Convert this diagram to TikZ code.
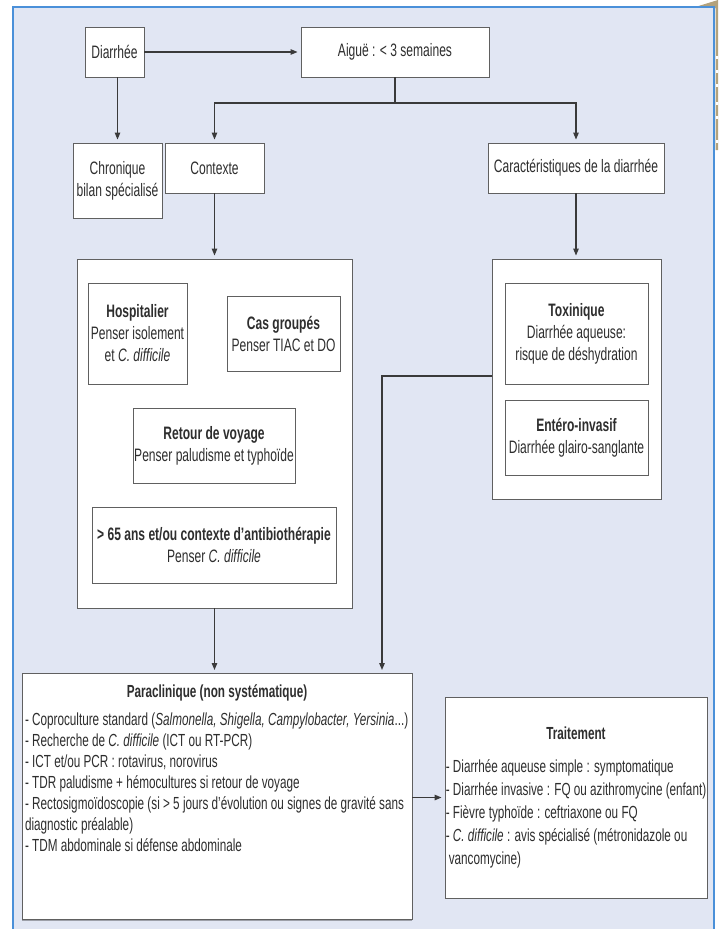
\documentclass[tikz,border=0pt]{standalone}
\usepackage{fontspec}
\setmainfont{Liberation Sans}[FakeStretch=0.67]
\usepackage{tikz}
\usetikzlibrary{calc,positioning,arrows.meta,shadows}
\usepackage{xcolor}
\definecolor{fond}{HTML}{E1E6F3}
\definecolor{cadre}{HTML}{4A90D9}
\definecolor{trait}{HTML}{3A3A3A}
\definecolor{bord}{HTML}{606060}
\definecolor{texte}{HTML}{2E2E2E}
\definecolor{coin}{HTML}{B3A27C}

\begin{document}
\begin{tikzpicture}[x=1pt, y=-1pt,
    boite/.style={draw=bord, fill=white, line width=0.9pt, align=center, text=texte,
        font=\fontsize{18}{22}\selectfont, inner sep=1pt,
        drop shadow={shadow xshift=0.4pt, shadow yshift=-1.2pt, fill=black, opacity=0.3}},
    zone/.style={boite},
    fleche/.style={draw=trait, line width=1.2pt, -{Triangle[length=7pt,width=5.5pt]}, shorten >=3pt},
    lien/.style={draw=trait, line width=1.2pt}]

    \useasboundingbox (0,0) rectangle (718,929);
    \fill[white] (0,0) rectangle (718,929);
    \fill[coin] (692,8) -- (718,0) -- (718,150) -- (715.5,150) -- (715.5,8) -- cycle;
    \foreach \y in {56,70,84,102,116,140} {
        \fill[white] (715.5,\y) rectangle (718,\y+3);
    }

    % cadre bleu
    \fill[fond] (13,7) rectangle (714,935);
    \draw[cadre, line width=2.2pt] (13,7) rectangle (714,935);

    % premier niveau
    \node[boite, minimum width=59pt, minimum height=50pt] (diarrhee) at (114.5,52) {Diarrhée};
    \node[boite, minimum width=188pt, minimum height=50pt] (aigue) at (395,52) {Aiguë : < 3 semaines};
    \node[boite, minimum width=89pt, minimum height=75pt] (chronique) at (117.5,180.5) {Chronique\\bilan spécialisé};
    \node[boite, minimum width=99pt, minimum height=50pt] (contexte) at (214.5,168) {Contexte};
    \node[boite, minimum width=176pt, minimum height=50pt] (caract) at (576,168) {Caractéristiques de la diarrhée};

    % zone contexte
    \node[zone, minimum width=275pt, minimum height=349pt] (zonecontexte) at (214.5,433.5) {};
    \node[boite, minimum width=99pt, minimum height=101pt] (hospitalier) at (137.5,333.5)
        {\textbf{Hospitalier}\\Penser isolement\\et \textit{C. difficile}};
    \node[boite, minimum width=113pt, minimum height=75pt] (groupes) at (283.5,333.5)
        {\textbf{Cas groupés}\\Penser TIAC et DO};
    \node[boite, minimum width=162pt, minimum height=75pt] (voyage) at (214,445.5)
        {\textbf{Retour de voyage}\\Penser paludisme et typhoïde};
    \node[boite, minimum width=244pt, minimum height=76pt] (agees) at (214,545)
        {\textbf{> 65 ans et/ou contexte d’antibiothérapie}\\Penser \textit{C. difficile}};

    % zone caracteristiques
    \node[zone, minimum width=169pt, minimum height=240pt] (zonecar) at (576.5,379) {};
    \node[boite, minimum width=143pt, minimum height=101pt] (toxinique) at (576.5,333.5)
        {\textbf{Toxinique}\\Diarrhée aqueuse:\\risque de déshydration};
    \node[boite, minimum width=143pt, minimum height=75pt] (entero) at (576.5,437.5)
        {\textbf{Entéro-invasif}\\Diarrhée glairo-sanglante};

    % examens et traitement
    \node[boite, inner sep=3pt, anchor=north] (para) at (217,673)
        {\parbox[t][240pt][t]{384pt}{\fontsize{17.5}{21}\selectfont\vspace*{8pt}%
        {\centering\textbf{Paraclinique (non systématique)}\par}\vspace{7pt}%
        \begin{tabular}[t]{@{}l@{}}
        - Coproculture standard (\textit{Salmonella, Shigella, Campylobacter, Yersinia}...)\\
        - Recherche de \textit{C. difficile} (ICT ou RT-PCR)\\
        - ICT et/ou PCR : rotavirus, norovirus\\
        - TDR paludisme + hémocultures si retour de voyage\\
        - Rectosigmoïdoscopie (si > 5 jours d’évolution ou signes de gravité sans\\
        diagnostic préalable)\\
        - TDM abdominale si défense abdominale
        \end{tabular}}};
    \node[boite, minimum width=262pt, minimum height=201pt, inner sep=0pt] (traitement) at (576,797.5)
        {\fontsize{17.5}{23}\selectfont\begin{tabular}{@{}l@{}}
        \multicolumn{1}{@{}c@{}}{\textbf{Traitement}}\\[10pt]
        - Diarrhée aqueuse simple : symptomatique\\
        - Diarrhée invasive : FQ ou azithromycine (enfant)\\
        - Fièvre typhoïde : ceftriaxone ou FQ\\
        - \textit{C. difficile} : avis spécialisé (métronidazole ou\\
        \hspace*{3pt}vancomycine)
        \end{tabular}};

    % connecteurs
    \coordinate (partage) at (395,103);
    \coordinate (coude) at (382,376);
    \draw[fleche] (diarrhee.east) -- (aigue.west);
    \draw[fleche] (chronique.north |- diarrhee.south) -- (chronique.north);
    \draw[lien] (aigue.south) -- (partage);
    \draw[fleche] (partage) -| (contexte.north);
    \draw[fleche] (partage) -| (caract.north);
    \draw[fleche] (contexte.south) -- (zonecontexte.north);
    \draw[fleche] (caract.south) -- (caract.south |- zonecar.north);
    \draw[fleche] (zonecontexte.south) -- (zonecontexte.south |- para.north);
    \draw[fleche] (coude -| zonecar.west) -- (coude) -- (coude |- para.north);
    \draw[fleche] (para.east |- traitement.west) -- (traitement.west);
\end{tikzpicture}
\end{document}
